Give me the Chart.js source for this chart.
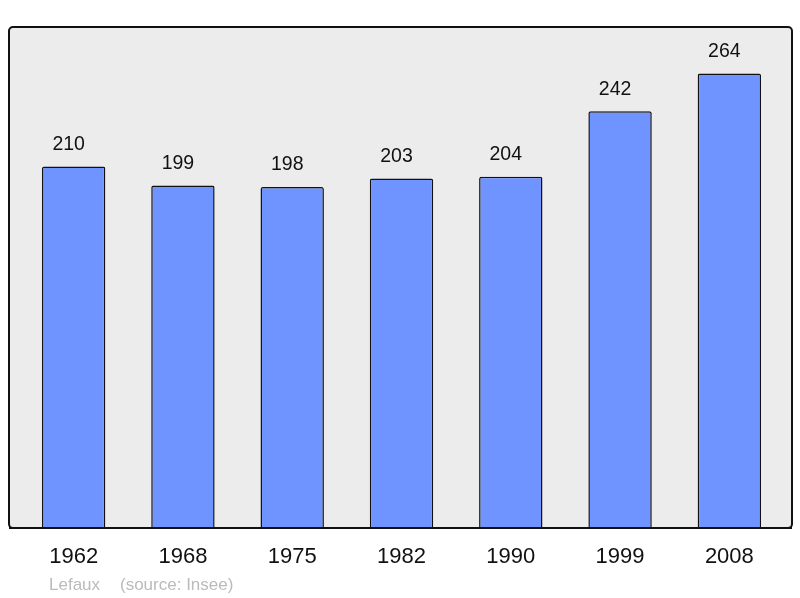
<!DOCTYPE html>
<html>
<head>
<meta charset="utf-8">
<script src="https://cdn.jsdelivr.net/npm/chart.js@4/dist/chart.umd.min.js"></script>
<style>
  html, body { margin: 0; padding: 0; background: #fff; }
  #wrap { width: 800px; height: 598px; }
</style>
</head>
<body>
<div id="wrap"><canvas id="popChart" width="800" height="598"></canvas></div>
<script>
// data
var years = ['1962', '1968', '1975', '1982', '1990', '1999', '2008'];
var population = [210, 199, 198, 203, 204, 242, 264];
var yMax = 291;

// grey framed box behind the bars + labels
var framePlugin = {
  id: 'frame',
  beforeDraw: function(chart) {
    var c = chart.ctx;
    c.save();
    c.fillStyle = '#ececec';
    c.strokeStyle = '#111';
    c.lineWidth = 2;
    c.beginPath();
    c.roundRect(9, 27, 783, 501, 4);
    c.fill();
    c.stroke();
    c.restore();
  },
  afterDatasetsDraw: function(chart) {
    var c = chart.ctx;
    var meta = chart.getDatasetMeta(0);
    var xs = chart.scales.x;
    c.save();
    c.textAlign = 'center';
    c.textBaseline = 'middle';
    c.fillStyle = '#111';
    c.font = '19.5px "Liberation Sans", Arial, sans-serif';
    meta.data.forEach(function(bar, i) {
      c.fillText(population[i], bar.x - 5, bar.y - 22);
    });
    c.font = '22px "Liberation Sans", Arial, sans-serif';
    years.forEach(function(y, i) {
      c.fillText(y, xs.getPixelForValue(i), 557);
    });
    // redraw bottom edge over bars
    c.strokeStyle = '#111';
    c.lineWidth = 2;
    c.beginPath();
    c.moveTo(9, 528);
    c.lineTo(792, 528);
    c.stroke();
    c.textAlign = 'left';
    c.fillStyle = '#bbb';
    c.font = '17px "Liberation Sans", Arial, sans-serif';
    c.fillText('Lefaux', 49, 585);
    c.fillText('(source: Insee)', 120, 585);
    c.restore();
  }
};

var ctx = document.getElementById('popChart').getContext('2d');
var popChart = new Chart(ctx, {
  type: 'bar',
  data: {
    labels: years,
    datasets: [{
      data: population,
      backgroundColor: '#7094ff',
      borderColor: '#111',
      borderWidth: 1.5,
      borderRadius: 2,
      borderSkipped: 'bottom',
      categoryPercentage: 1,
      barPercentage: 0.58
    }]
  },
  options: {
    responsive: false,
    animation: false,
    devicePixelRatio: 1,
    layout: { padding: { top: 27, bottom: 70, left: 19, right: 16 } },
    plugins: { legend: { display: false }, tooltip: { enabled: false } },
    scales: {
      x: { display: false },
      y: { display: false, min: 0, max: yMax }
    }
  },
  plugins: [framePlugin]
});
</script>
</body>
</html>
